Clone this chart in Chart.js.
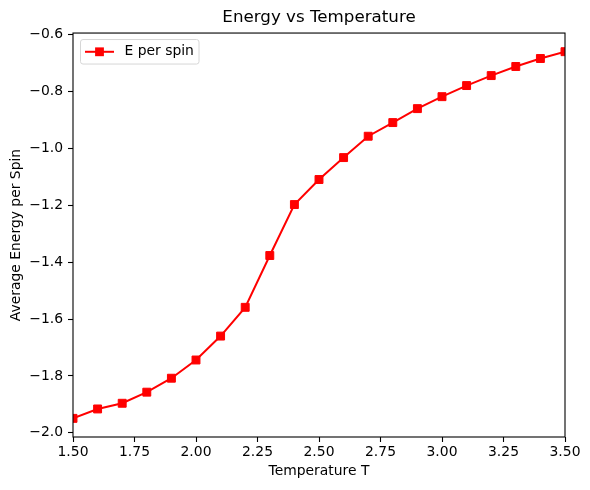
<!DOCTYPE html>
<html>
<head>
<meta charset="utf-8">
<script src="https://cdn.jsdelivr.net/npm/chart.js@4.4.1/dist/chart.umd.min.js"></script>
<style>
html,body{margin:0;padding:0;background:#fff;}
#wrap{width:590px;height:490px;}
</style>
</head>
<body>
<div id="wrap"><canvas id="c" width="590" height="490"></canvas></div>
<script>
// temperatures and measured energy per spin
var temps = [1.5,1.6,1.7,1.8,1.9,2.0,2.1,2.2,2.3,2.4,2.5,2.6,2.7,2.8,2.9,3.0,3.1,3.2,3.3,3.4,3.5];
var energy = [-1.949,-1.916,-1.896,-1.857,-1.808,-1.744,-1.660,-1.559,-1.377,-1.198,-1.110,-1.033,-0.958,-0.910,-0.861,-0.819,-0.780,-0.745,-0.713,-0.685,-0.661];
var xTicks = [1.5,1.75,2.0,2.25,2.5,2.75,3.0,3.25,3.5];
var yTicks = [-2.0,-1.8,-1.6,-1.4,-1.2,-1.0,-0.8,-0.6];

Chart.defaults.font.family = '"DejaVu Sans"';
Chart.defaults.color = '#000';

var pts = temps.map(function(t,i){return {x:t,y:energy[i]};});

// matplotlib style box round the axes
var frame = {
  id:'frame',
  afterDraw:function(chart){
    var a=chart.chartArea, ctx=chart.ctx;
    ctx.save();
    ctx.strokeStyle='#000';
    ctx.lineWidth=1.1;
    ctx.strokeRect(a.left,a.top,a.right-a.left,a.bottom-a.top);
    ctx.restore();
  }
};

// legend drawn inside the plot, upper left
var innerLegend = {
  id:'innerLegend',
  afterDraw:function(chart){
    var a=chart.chartArea, ctx=chart.ctx;
    var ds=chart.data.datasets[0];
    var x=a.left+7.5, y=a.top+6.5, w=118.5, h=24.5, r=2.5;
    ctx.save();
    ctx.beginPath();
    ctx.moveTo(x+r,y);
    ctx.lineTo(x+w-r,y);ctx.arcTo(x+w,y,x+w,y+r,r);
    ctx.lineTo(x+w,y+h-r);ctx.arcTo(x+w,y+h,x+w-r,y+h,r);
    ctx.lineTo(x+r,y+h);ctx.arcTo(x,y+h,x,y+h-r,r);
    ctx.lineTo(x,y+r);ctx.arcTo(x,y,x+r,y,r);
    ctx.closePath();
    ctx.fillStyle='rgba(255,255,255,0.8)';
    ctx.fill();
    ctx.strokeStyle='#d6d6d6';
    ctx.lineWidth=1;
    ctx.stroke();
    var cy=y+h/2;
    ctx.strokeStyle=ds.borderColor;
    ctx.lineWidth=ds.borderWidth;
    ctx.beginPath();ctx.moveTo(x+4.5,cy);ctx.lineTo(x+33.5,cy);ctx.stroke();
    ctx.fillStyle=ds.pointBackgroundColor;
    ctx.fillRect(x+19-4.4,cy-4.4,8.8,8.8);
    ctx.fillStyle='#000';
    ctx.font='13.9px "DejaVu Sans"';
    ctx.textBaseline='middle';
    ctx.fillText(ds.label,x+44,cy);
    ctx.restore();
  }
};

var ctx=document.getElementById('c').getContext('2d');
var chart=new Chart(ctx,{
  type:'line',
  data:{
    datasets:[{
      label:'E per spin',
      data:pts,
      borderColor:'#ff0000',
      backgroundColor:'#ff0000',
      pointBackgroundColor:'#ff0000',
      pointBorderColor:'#ff0000',
      borderWidth:2,
      pointStyle:'rect',
      pointRadius:5.6,
      pointBorderWidth:1,
      tension:0,
      fill:false,
      clip:0
    }]
  },
  options:{
    responsive:false,
    animation:false,
    devicePixelRatio:1,
    layout:{padding:{left:0,right:25,top:0,bottom:0}},
    plugins:{
      legend:{display:false},
      tooltip:{enabled:false},
      title:{
        display:true,
        text:'Energy vs Temperature',
        fullSize:false,
        font:{size:16.7,weight:'normal',lineHeight:1.2},
        padding:{top:8,bottom:5},
        color:'#000'
      }
    },
    scales:{
      x:{
        type:'linear',
        min:1.5,
        max:3.5,
        afterBuildTicks:function(s){s.ticks=xTicks.map(function(v){return {value:v};});},
        afterFit:function(s){s.height=53;},
        border:{display:false},
        grid:{drawOnChartArea:false,drawTicks:true,tickLength:5,tickColor:'#000',tickWidth:1.1},
        ticks:{
          padding:2,
          font:{size:13.9},
          maxRotation:0,
          callback:function(v){return v.toFixed(2);}
        },
        title:{display:true,text:'Temperature T',font:{size:13.9,lineHeight:1.2},padding:{top:0,bottom:10.6}}
      },
      y:{
        type:'linear',
        min:-2.0145,
        max:-0.5955,
        afterBuildTicks:function(s){s.ticks=yTicks.map(function(v){return {value:v};});},
        afterFit:function(s){s.width=73;},
        border:{display:false},
        grid:{drawOnChartArea:false,drawTicks:true,tickLength:5,tickColor:'#000',tickWidth:1.1},
        ticks:{
          padding:5,
          font:{size:13.9},
          callback:function(v){return v.toFixed(1).replace('-','\u2212');}
        },
        title:{display:true,text:'Average Energy per Spin',font:{size:13.9,lineHeight:1.2},padding:{top:8,bottom:0}}
      }
    }
  },
  plugins:[frame,innerLegend]
});
</script>
</body>
</html>
